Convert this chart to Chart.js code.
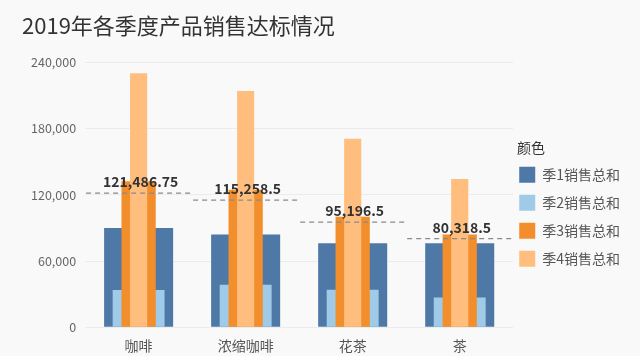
<!DOCTYPE html>
<html><head><meta charset="utf-8">
<script src="https://cdn.jsdelivr.net/npm/chart.js@4/dist/chart.umd.min.js"></script>
<style>html,body{margin:0;padding:0;background:#f9f9f9;}#wrap{width:640px;height:356px;}</style>
</head><body><div id="wrap"><canvas id="c" width="640" height="356"></canvas></div>
<script>
const categories = ['咖啡', '浓缩咖啡', '花茶', '茶'];
const seriesNames = ['季1销售总和', '季2销售总和', '季3销售总和', '季4销售总和'];
const q1 = [89800, 84000, 76000, 76000];
const q2 = [33700, 38500, 34000, 27000];
const q3 = [132200, 124500, 100000, 84000];
const q4 = [230247, 214034, 170786, 134274];
const targets = [121486.75, 115258.5, 95196.5, 80318.5];
const yTicks = [0, 60000, 120000, 180000, 240000];

const FONT = '"Noto Sans CJK SC", "Noto Sans", sans-serif';
const colors = ['#4e79a7', '#a0cbe8', '#f28e2b', '#ffbe7d'];
const widths = [0.645, 0.485, 0.32, 0.16];
const seriesData = [q1, q2, q3, q4];

const fmt = v => v.toLocaleString('en-US', {maximumFractionDigits: 2});

const avgPlugin = {
  id: 'avgLines',
  afterLayout(chart) {
    if (chart.legend) { chart.legend.left -= 6; chart.legend.right -= 6; }
  },
  afterDatasetsDraw(chart) {
    const ctx = chart.ctx, x = chart.scales.x, y = chart.scales.y;
    const half = (x.getPixelForValue(1) - x.getPixelForValue(0)) / 2;
    ctx.save();
    targets.forEach((t, i) => {
      const cx = x.getPixelForValue(i), py = y.getPixelForValue(t);
      ctx.strokeStyle = '#8a8a8a';
      ctx.lineWidth = 1.2;
      ctx.setLineDash([5, 4]);
      ctx.beginPath();
      ctx.moveTo(cx - half + 1, py);
      ctx.lineTo(cx + half - 1, py);
      ctx.stroke();
      ctx.setLineDash([]);
      ctx.fillStyle = '#333';
      ctx.font = 'bold 14px ' + FONT;
      ctx.textAlign = 'center';
      ctx.textBaseline = 'bottom';
      ctx.fillText(fmt(t), cx + 2, py - 4);
    });
    ctx.restore();
  }
};

new Chart(document.getElementById('c'), {
  type: 'bar',
  data: {
    labels: categories,
    datasets: seriesData.map((d, i) => ({
      label: seriesNames[i],
      data: d,
      backgroundColor: colors[i],
      borderWidth: 0,
      grouped: false,
      categoryPercentage: 1,
      barPercentage: widths[i],
      order: 4 - i
    }))
  },
  options: {
    responsive: false,
    animation: false,
    layout: {padding: {left: 22, right: 4, top: 0, bottom: 0}},
    scales: {
      x: {
        grid: {display: false},
        border: {display: false},
        ticks: {font: {family: FONT, size: 14}, color: '#555', padding: 2}
      },
      y: {
        min: 0, max: 240000,
        afterBuildTicks: s => { s.ticks = yTicks.map(v => ({value: v})); },
        grid: {color: '#ececec', drawTicks: false},
        border: {display: false},
        ticks: {font: {family: FONT, size: 12.5}, color: '#666', padding: 9,
                callback: v => fmt(v)}
      }
    },
    plugins: {
      title: {display: true, text: '2019年各季度产品销售达标情况', align: 'start',
              color: '#333', font: {family: FONT, size: 22, weight: 'normal'},
              padding: {top: 12, bottom: 24}},
      legend: {
        position: 'right',
        align: 'start',
        title: {display: true, text: '\u2002\u2009颜色', position: 'start', color: '#333',
                font: {family: FONT, size: 14}, padding: {top: 141, bottom: -3}},
        labels: {boxWidth: 16, boxHeight: 16, padding: 12, color: '#555',
                 font: {family: FONT, size: 14},
                 sort: (a, b) => a.datasetIndex - b.datasetIndex}
      },
      tooltip: {enabled: false}
    }
  },
  plugins: [avgPlugin]
});
</script></body></html>
